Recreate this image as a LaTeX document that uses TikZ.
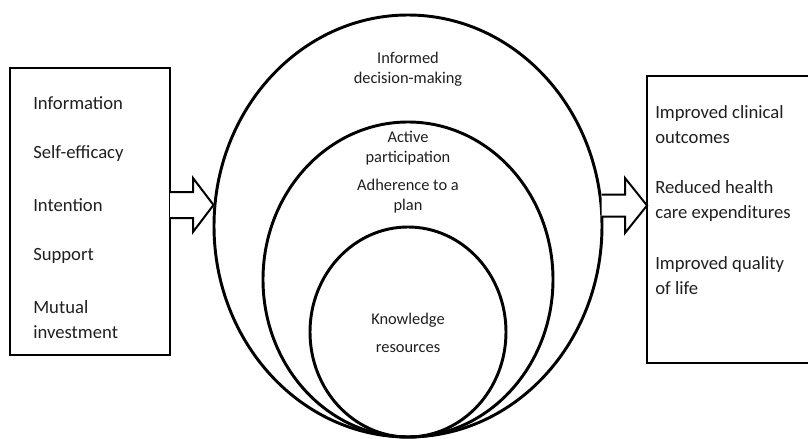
\documentclass[tikz,border=0pt]{standalone}
\usepackage{fontspec}
\setmainfont{Carlito}
\usetikzlibrary{shapes.geometric,calc}

\tikzset{
  framebox/.style={draw, rectangle, line width=1.5pt, inner sep=0pt, outer sep=0pt},
  ring/.style={draw, ellipse, line width=2.2pt, inner sep=0pt, outer sep=0pt},
  sidetext/.style={font=\fontsize{14}{17}\selectfont, anchor=base west, inner sep=0pt, text=black!88},
  midtext/.style={font=\fontsize{12.3}{15}\selectfont, anchor=base, inner sep=0pt, text=black!88},
  blockarrow/.style={draw, line width=1.5pt, line join=miter, fill=white},
}

\begin{document}
\begin{tikzpicture}[x=0.75pt,y=-0.75pt]
\useasboundingbox (0,0) rectangle (808,439);
\clip (0,0) rectangle (808,439);

% input factors
\node[framebox, minimum width=120pt, minimum height=215.25pt] (inbox) at (90,211.5) {};
\node[sidetext] (in1) at (33,109) {Information};
\node[sidetext] (in2) at (33,158) {Self-efficacy};
\node[sidetext] (in3) at (33,211) {Intention};
\node[sidetext] (in4) at (33,260) {Support};
\node[sidetext] (in5a) at (33,313) {Mutual};
\node[sidetext] (in5b) at (33,338) {investment};

% nested levels of engagement
\node[ring, minimum width=291pt, minimum height=316.5pt] (outer) at (408,226) {};
\node[ring, minimum width=217.5pt, minimum height=236.25pt] (middle) at (408,279.5) {};
\node[ring, minimum width=147pt, minimum height=157.5pt] (inner) at (408,332) {};

\node[midtext] (o1) at (408,63) {Informed};
\node[midtext] (o2) at (408,84) {decision-making};
\node[midtext] (m1) at (408,142) {Active};
\node[midtext] (m2) at (408,162) {participation};
\node[midtext] (m3) at (408,190) {Adherence to a};
\node[midtext] (m4) at (408,210) {plan};
\node[midtext] (k1) at (408,324) {Knowledge};
\node[midtext] (k2) at (408,352) {resources};

% outcomes
\node[framebox, minimum width=137.25pt, minimum height=215.25pt] (outbox) at (738.5,219.5) {};
\node[sidetext] (r1) at (655,118) {Improved clinical};
\node[sidetext] (r2) at (655,143) {outcomes};
\node[sidetext] (r3) at (655,193) {Reduced health};
\node[sidetext] (r4) at (655,218) {care expenditures};
\node[sidetext] (r5) at (655,269) {Improved quality};
\node[sidetext] (r6) at (655,294) {of life};

% block arrows
\coordinate (ltip) at (213.5,205);
\coordinate (ltail) at (inbox.east |- ltip);
\draw[blockarrow]
  ($(ltail)+(0,-13)$) -- ($(ltail)+(23,-13)$) -- ($(ltail)+(23,-27)$) -- (ltip)
  -- ($(ltail)+(23,27)$) -- ($(ltail)+(23,13)$) -- ($(ltail)+(0,13)$);

\coordinate (rtail) at (601.5,205.5);
\coordinate (rtip) at (outbox.west |- rtail);
\draw[blockarrow]
  ($(rtail)+(0,-11)$) -- ($(rtail)+(23.5,-11)$) -- ($(rtail)+(23.5,-27.5)$) -- (rtip)
  -- ($(rtail)+(23.5,27.5)$) -- ($(rtail)+(23.5,11)$) -- ($(rtail)+(0,11)$);
\end{tikzpicture}
\end{document}
